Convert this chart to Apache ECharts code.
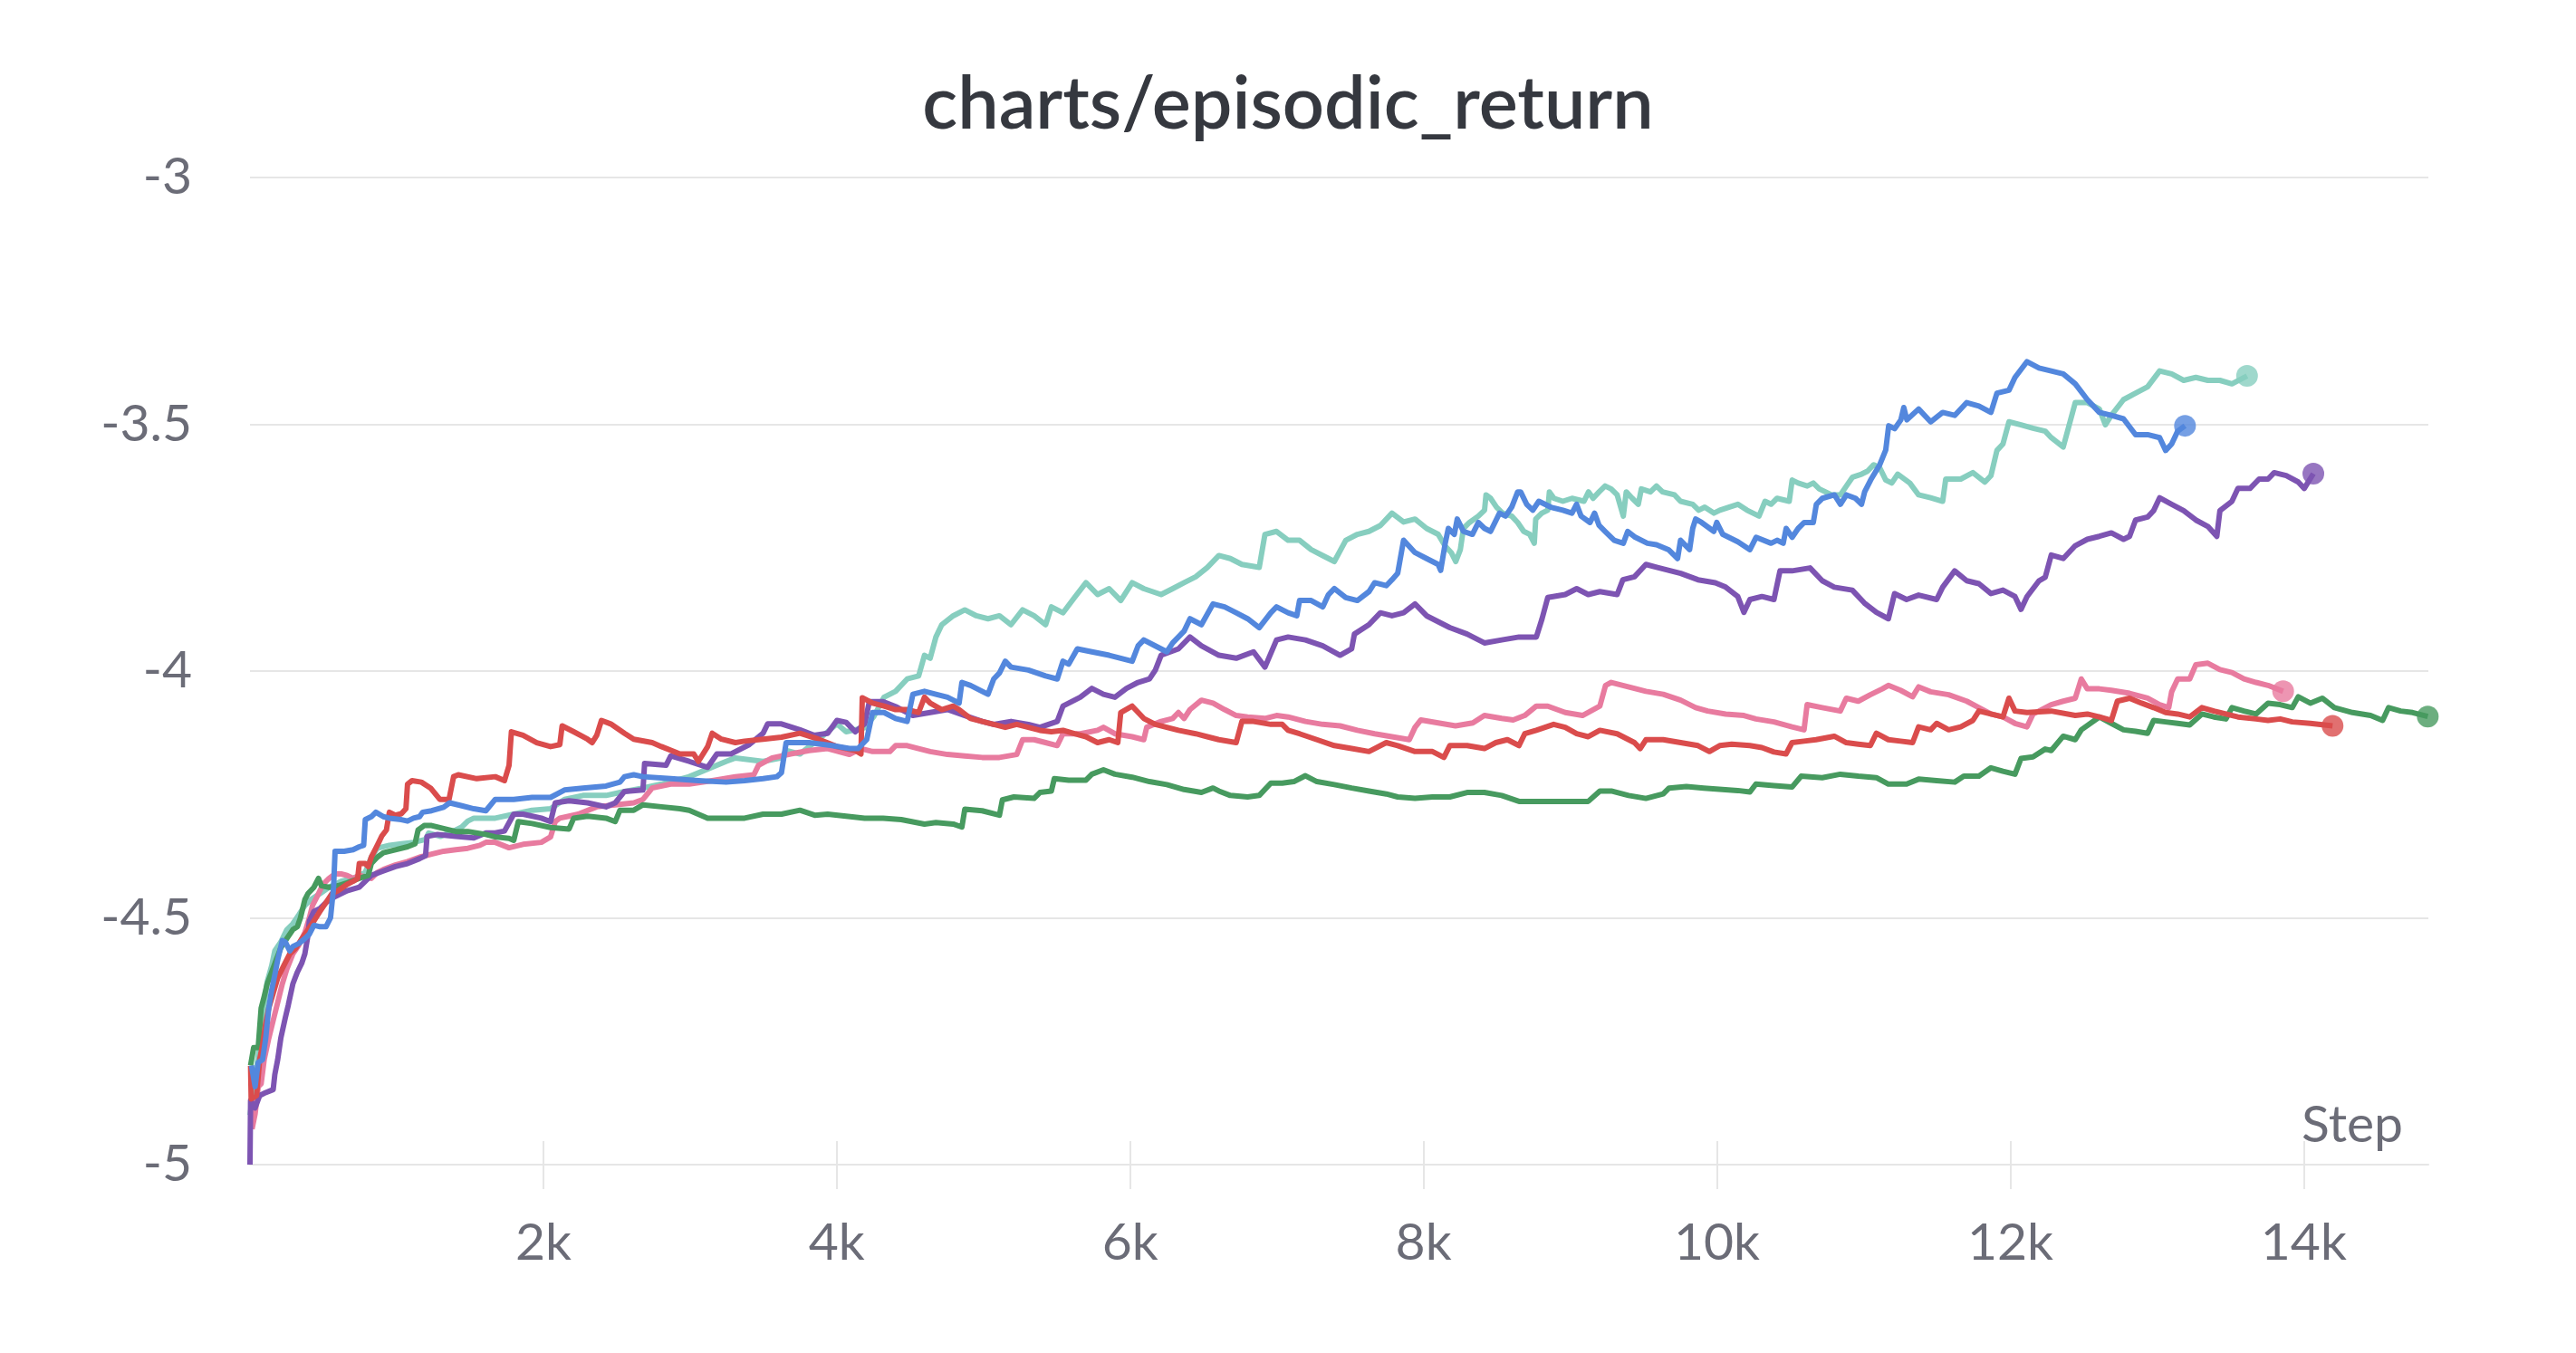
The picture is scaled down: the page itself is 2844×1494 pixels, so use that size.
<!DOCTYPE html>
<html>
<head>
<meta charset="utf-8">
<script src="https://cdn.jsdelivr.net/npm/echarts@6/dist/echarts.min.js"></script>
<style>
html,body{margin:0;padding:0;background:#ffffff;}
#chart{width:2844px;height:1494px;}
</style>
</head>
<body>
<div id="chart"></div>
<script>
// ---------- text ----------
const chartTitle = 'charts/episodic_return';
const xAxisName = 'Step';
const xTickValues = [2000, 4000, 6000, 8000, 10000, 12000, 14000];
const yMin = -5, yMax = -3, yStep = 0.5;
const xMin = 0, xMax = 14850;

// ---------- run colours ----------
const runColors = {
  teal: '#87cebf', pink: '#e87b9f', purple: '#7d54b2',
  green: '#479a5f', red: '#da4c4c', blue: '#5387dd'
};

// ---------- data: [step, episodic_return] ----------
const tealRun = [[0,-4.90],[25,-4.85],[56,-4.78],[86,-4.70],[117,-4.63],[148,-4.597],[169,-4.567],[210,-4.549],[251,-4.524],[292,-4.512],[333,-4.494],[374,-4.475],[415,-4.463],[477,-4.451],[539,-4.438],[621,-4.426],[703,-4.420],[786,-4.408],[827,-4.377],[868,-4.359],[950,-4.353],[1032,-4.350],[1115,-4.347],[1197,-4.341],[1218,-4.328],[1300,-4.335],[1403,-4.322],[1444,-4.316],[1485,-4.304],[1526,-4.298],[1608,-4.298],[1672,-4.298],[1798,-4.290],[1923,-4.282],[2049,-4.279],[2144,-4.260],[2270,-4.252],[2427,-4.252],[2553,-4.244],[2679,-4.237],[2805,-4.229],[2994,-4.214],[3246,-4.183],[3309,-4.176],[3498,-4.183],[3623,-4.176],[3655,-4.161],[3749,-4.168],[3938,-4.123],[4001,-4.107],[4064,-4.123],[4190,-4.115],[4253,-4.092],[4322,-4.053],[4401,-4.041],[4480,-4.016],[4558,-4.010],[4598,-3.968],[4637,-3.974],[4676,-3.931],[4716,-3.906],[4794,-3.888],[4873,-3.876],[4952,-3.888],[5031,-3.894],[5109,-3.888],[5188,-3.906],[5267,-3.876],[5345,-3.888],[5424,-3.906],[5463,-3.870],[5542,-3.882],[5621,-3.851],[5699,-3.821],[5778,-3.845],[5857,-3.833],[5936,-3.857],[6014,-3.821],[6093,-3.833],[6211,-3.845],[6290,-3.833],[6368,-3.821],[6447,-3.809],[6526,-3.790],[6605,-3.766],[6683,-3.772],[6762,-3.784],[6880,-3.790],[6919,-3.723],[6998,-3.717],[7077,-3.735],[7155,-3.735],[7234,-3.754],[7313,-3.766],[7392,-3.778],[7470,-3.735],[7549,-3.723],[7628,-3.717],[7706,-3.705],[7785,-3.680],[7864,-3.698],[7942,-3.692],[8021,-3.711],[8100,-3.723],[8148,-3.747],[8189,-3.760],[8220,-3.778],[8251,-3.754],[8272,-3.711],[8313,-3.699],[8374,-3.686],[8416,-3.674],[8426,-3.643],[8457,-3.650],[8498,-3.668],[8539,-3.680],[8601,-3.686],[8642,-3.699],[8683,-3.717],[8724,-3.723],[8755,-3.741],[8765,-3.692],[8806,-3.680],[8847,-3.674],[8858,-3.637],[8889,-3.650],[8950,-3.656],[9012,-3.650],[9094,-3.656],[9125,-3.637],[9156,-3.650],[9197,-3.637],[9238,-3.625],[9279,-3.631],[9320,-3.643],[9362,-3.686],[9382,-3.637],[9423,-3.650],[9464,-3.662],[9485,-3.631],[9547,-3.637],[9588,-3.625],[9629,-3.637],[9711,-3.643],[9752,-3.656],[9835,-3.662],[9876,-3.674],[9917,-3.668],[9979,-3.680],[10020,-3.674],[10081,-3.668],[10143,-3.662],[10205,-3.674],[10246,-3.680],[10287,-3.686],[10328,-3.656],[10369,-3.662],[10410,-3.650],[10493,-3.656],[10513,-3.613],[10554,-3.619],[10616,-3.625],[10657,-3.619],[10698,-3.631],[10740,-3.637],[10781,-3.643],[10842,-3.643],[10883,-3.625],[10925,-3.607],[10986,-3.601],[11027,-3.595],[11069,-3.582],[11110,-3.588],[11151,-3.613],[11192,-3.619],[11233,-3.601],[11315,-3.619],[11375,-3.643],[11457,-3.649],[11539,-3.656],[11560,-3.611],[11662,-3.611],[11745,-3.598],[11827,-3.617],[11868,-3.604],[11909,-3.553],[11950,-3.540],[11991,-3.495],[12073,-3.501],[12155,-3.508],[12238,-3.514],[12279,-3.527],[12361,-3.546],[12402,-3.501],[12443,-3.456],[12525,-3.456],[12607,-3.469],[12648,-3.501],[12689,-3.482],[12772,-3.450],[12854,-3.437],[12936,-3.424],[13018,-3.392],[13100,-3.398],[13182,-3.411],[13265,-3.405],[13347,-3.411],[13429,-3.411],[13511,-3.418],[13614,-3.402]];

const pinkRun = [[14,-4.928],[35,-4.897],[56,-4.842],[76,-4.836],[97,-4.787],[128,-4.744],[158,-4.708],[189,-4.671],[220,-4.634],[251,-4.604],[292,-4.573],[333,-4.555],[374,-4.530],[405,-4.500],[426,-4.475],[457,-4.457],[498,-4.432],[539,-4.420],[580,-4.411],[621,-4.411],[662,-4.414],[703,-4.420],[745,-4.414],[786,-4.417],[827,-4.420],[868,-4.408],[909,-4.402],[991,-4.393],[1074,-4.386],[1156,-4.377],[1238,-4.371],[1320,-4.365],[1403,-4.362],[1485,-4.359],[1567,-4.353],[1608,-4.347],[1672,-4.347],[1766,-4.358],[1861,-4.351],[1986,-4.347],[2049,-4.336],[2081,-4.305],[2112,-4.298],[2175,-4.294],[2238,-4.290],[2364,-4.275],[2490,-4.271],[2616,-4.267],[2679,-4.260],[2742,-4.237],[2868,-4.229],[2994,-4.229],[3151,-4.222],[3309,-4.214],[3435,-4.210],[3466,-4.191],[3560,-4.176],[3686,-4.168],[3812,-4.161],[3938,-4.157],[4086,-4.169],[4165,-4.157],[4244,-4.163],[4362,-4.163],[4401,-4.151],[4480,-4.151],[4558,-4.157],[4637,-4.163],[4755,-4.169],[4873,-4.172],[4991,-4.175],[5109,-4.175],[5227,-4.169],[5267,-4.139],[5345,-4.139],[5424,-4.145],[5503,-4.151],[5542,-4.127],[5660,-4.127],[5778,-4.120],[5818,-4.114],[5896,-4.127],[6014,-4.133],[6093,-4.139],[6113,-4.114],[6211,-4.102],[6290,-4.096],[6329,-4.084],[6368,-4.096],[6408,-4.078],[6486,-4.059],[6565,-4.065],[6644,-4.078],[6723,-4.090],[6801,-4.093],[6919,-4.096],[6998,-4.090],[7077,-4.093],[7195,-4.102],[7313,-4.108],[7431,-4.111],[7549,-4.120],[7667,-4.127],[7785,-4.133],[7903,-4.139],[7942,-4.114],[7982,-4.099],[8100,-4.105],[8218,-4.111],[8336,-4.105],[8415,-4.090],[8533,-4.096],[8611,-4.099],[8690,-4.090],[8769,-4.071],[8847,-4.071],[8966,-4.084],[9084,-4.090],[9202,-4.071],[9241,-4.029],[9280,-4.023],[9359,-4.029],[9516,-4.041],[9634,-4.047],[9753,-4.059],[9855,-4.074],[9937,-4.081],[10060,-4.087],[10184,-4.090],[10266,-4.097],[10389,-4.103],[10512,-4.113],[10594,-4.119],[10615,-4.068],[10718,-4.074],[10841,-4.081],[10882,-4.055],[10964,-4.061],[11046,-4.048],[11128,-4.036],[11169,-4.029],[11252,-4.039],[11334,-4.052],[11375,-4.032],[11457,-4.042],[11580,-4.048],[11703,-4.061],[11786,-4.074],[11868,-4.087],[11950,-4.093],[12032,-4.106],[12114,-4.113],[12155,-4.087],[12196,-4.081],[12279,-4.068],[12361,-4.061],[12443,-4.055],[12484,-4.016],[12525,-4.036],[12607,-4.036],[12689,-4.039],[12813,-4.045],[12936,-4.055],[13018,-4.068],[13080,-4.074],[13100,-4.042],[13141,-4.016],[13223,-4.016],[13265,-3.987],[13347,-3.984],[13429,-3.997],[13511,-4.003],[13593,-4.016],[13675,-4.023],[13757,-4.029],[13860,-4.041]];

const purpleRun = [[0,-5.0],[4,-4.870],[35,-4.885],[66,-4.860],[107,-4.854],[158,-4.848],[169,-4.818],[189,-4.787],[210,-4.744],[241,-4.702],[261,-4.677],[292,-4.634],[323,-4.610],[354,-4.591],[374,-4.573],[395,-4.536],[405,-4.506],[436,-4.487],[477,-4.481],[518,-4.469],[580,-4.457],[662,-4.445],[745,-4.438],[786,-4.426],[827,-4.414],[909,-4.405],[991,-4.396],[1074,-4.390],[1156,-4.380],[1197,-4.374],[1207,-4.335],[1279,-4.331],[1403,-4.335],[1526,-4.338],[1608,-4.328],[1672,-4.328],[1735,-4.324],[1798,-4.290],[1861,-4.290],[1986,-4.298],[2049,-4.305],[2081,-4.267],[2175,-4.263],[2301,-4.267],[2427,-4.275],[2490,-4.267],[2553,-4.244],[2679,-4.241],[2690,-4.187],[2836,-4.191],[2868,-4.172],[2994,-4.183],[3120,-4.195],[3183,-4.168],[3277,-4.168],[3403,-4.149],[3498,-4.126],[3529,-4.107],[3623,-4.107],[3749,-4.119],[3844,-4.130],[3938,-4.126],[4001,-4.100],[4064,-4.104],[4127,-4.123],[4190,-4.107],[4222,-4.062],[4316,-4.062],[4410,-4.073],[4440,-4.078],[4519,-4.090],[4637,-4.084],[4755,-4.078],[4873,-4.090],[4991,-4.102],[5070,-4.108],[5188,-4.102],[5306,-4.108],[5385,-4.114],[5503,-4.102],[5542,-4.071],[5660,-4.053],[5739,-4.035],[5818,-4.047],[5896,-4.053],[5975,-4.035],[6054,-4.023],[6132,-4.016],[6172,-3.998],[6211,-3.968],[6329,-3.955],[6408,-3.931],[6486,-3.949],[6605,-3.968],[6723,-3.974],[6841,-3.961],[6919,-3.992],[6998,-3.937],[7077,-3.931],[7195,-3.937],[7313,-3.949],[7431,-3.968],[7510,-3.955],[7529,-3.925],[7628,-3.906],[7706,-3.882],[7785,-3.888],[7864,-3.882],[7942,-3.864],[8021,-3.888],[8100,-3.900],[8179,-3.912],[8297,-3.925],[8415,-3.943],[8533,-3.937],[8651,-3.931],[8769,-3.931],[8808,-3.894],[8847,-3.851],[8966,-3.845],[9044,-3.833],[9123,-3.845],[9202,-3.839],[9320,-3.845],[9359,-3.815],[9438,-3.809],[9516,-3.784],[9595,-3.790],[9674,-3.796],[9753,-3.802],[9871,-3.815],[9989,-3.821],[10060,-3.830],[10142,-3.849],[10184,-3.881],[10225,-3.855],[10307,-3.849],[10389,-3.855],[10430,-3.797],[10512,-3.797],[10635,-3.791],[10718,-3.817],[10800,-3.830],[10923,-3.836],[11005,-3.862],[11087,-3.881],[11169,-3.894],[11211,-3.843],[11293,-3.855],[11375,-3.846],[11498,-3.855],[11539,-3.830],[11621,-3.797],[11703,-3.817],[11786,-3.823],[11868,-3.843],[11950,-3.836],[12032,-3.849],[12073,-3.875],[12114,-3.849],[12196,-3.817],[12238,-3.810],[12279,-3.765],[12361,-3.772],[12443,-3.746],[12525,-3.733],[12607,-3.727],[12689,-3.720],[12772,-3.733],[12813,-3.727],[12854,-3.694],[12936,-3.688],[12977,-3.675],[13018,-3.649],[13100,-3.662],[13182,-3.675],[13265,-3.694],[13347,-3.707],[13408,-3.727],[13429,-3.675],[13511,-3.656],[13552,-3.630],[13634,-3.630],[13696,-3.611],[13757,-3.611],[13799,-3.598],[13881,-3.604],[13963,-3.617],[14004,-3.630],[14066,-3.600]];

const greenRun = [[4,-4.799],[25,-4.763],[56,-4.763],[76,-4.683],[97,-4.659],[117,-4.634],[148,-4.610],[179,-4.585],[210,-4.561],[251,-4.542],[292,-4.524],[323,-4.518],[344,-4.500],[374,-4.463],[395,-4.451],[436,-4.438],[467,-4.420],[487,-4.435],[539,-4.438],[600,-4.435],[662,-4.429],[745,-4.420],[806,-4.414],[827,-4.390],[868,-4.377],[909,-4.368],[991,-4.362],[1074,-4.356],[1125,-4.350],[1146,-4.322],[1187,-4.313],[1238,-4.313],[1320,-4.319],[1403,-4.325],[1485,-4.325],[1608,-4.331],[1672,-4.336],[1766,-4.339],[1798,-4.343],[1829,-4.305],[1923,-4.309],[2049,-4.317],[2175,-4.320],[2207,-4.298],[2301,-4.294],[2427,-4.298],[2490,-4.305],[2522,-4.282],[2616,-4.282],[2679,-4.271],[2805,-4.275],[2931,-4.279],[2994,-4.282],[3120,-4.298],[3246,-4.298],[3372,-4.298],[3498,-4.290],[3623,-4.290],[3749,-4.282],[3850,-4.292],[3938,-4.290],[4064,-4.294],[4190,-4.298],[4316,-4.298],[4440,-4.301],[4598,-4.310],[4676,-4.307],[4794,-4.310],[4853,-4.316],[4873,-4.280],[4991,-4.283],[5109,-4.292],[5129,-4.261],[5208,-4.255],[5345,-4.258],[5385,-4.246],[5463,-4.243],[5483,-4.218],[5581,-4.221],[5699,-4.221],[5739,-4.209],[5818,-4.200],[5896,-4.209],[6014,-4.215],[6132,-4.224],[6250,-4.230],[6368,-4.240],[6486,-4.246],[6565,-4.237],[6605,-4.243],[6683,-4.252],[6801,-4.255],[6880,-4.252],[6959,-4.227],[7037,-4.227],[7116,-4.224],[7195,-4.212],[7273,-4.224],[7392,-4.230],[7510,-4.237],[7628,-4.243],[7746,-4.249],[7824,-4.255],[7942,-4.258],[8061,-4.255],[8179,-4.255],[8297,-4.246],[8415,-4.246],[8533,-4.252],[8651,-4.264],[8808,-4.264],[8966,-4.264],[9123,-4.264],[9202,-4.243],[9280,-4.243],[9398,-4.252],[9516,-4.258],[9634,-4.249],[9674,-4.237],[9792,-4.234],[9910,-4.237],[10142,-4.242],[10225,-4.245],[10266,-4.229],[10389,-4.232],[10512,-4.235],[10574,-4.213],[10718,-4.216],[10841,-4.209],[10964,-4.213],[11087,-4.216],[11169,-4.229],[11293,-4.229],[11375,-4.219],[11498,-4.222],[11621,-4.225],[11683,-4.213],[11786,-4.213],[11868,-4.196],[11950,-4.203],[12032,-4.209],[12073,-4.177],[12155,-4.174],[12238,-4.158],[12279,-4.161],[12361,-4.132],[12443,-4.139],[12484,-4.119],[12607,-4.093],[12689,-4.106],[12772,-4.119],[12854,-4.122],[12936,-4.126],[12977,-4.100],[13059,-4.103],[13141,-4.106],[13223,-4.109],[13306,-4.087],[13388,-4.093],[13470,-4.097],[13511,-4.074],[13593,-4.081],[13675,-4.087],[13757,-4.065],[13840,-4.068],[13922,-4.074],[13963,-4.052],[14045,-4.065],[14127,-4.055],[14209,-4.074],[14333,-4.084],[14456,-4.090],[14538,-4.100],[14579,-4.074],[14661,-4.081],[14743,-4.084],[14846,-4.092]];

const redRun = [[4,-4.800],[8,-4.867],[45,-4.860],[66,-4.787],[86,-4.757],[107,-4.714],[128,-4.683],[158,-4.653],[189,-4.622],[230,-4.597],[271,-4.573],[313,-4.561],[354,-4.542],[395,-4.524],[436,-4.506],[477,-4.487],[518,-4.469],[559,-4.451],[600,-4.445],[662,-4.432],[703,-4.426],[734,-4.420],[745,-4.390],[786,-4.390],[806,-4.396],[827,-4.377],[858,-4.359],[878,-4.347],[899,-4.334],[930,-4.322],[950,-4.286],[991,-4.292],[1032,-4.289],[1063,-4.279],[1074,-4.229],[1105,-4.222],[1168,-4.225],[1231,-4.237],[1294,-4.260],[1357,-4.260],[1388,-4.214],[1420,-4.210],[1546,-4.218],[1672,-4.214],[1735,-4.222],[1766,-4.191],[1782,-4.123],[1861,-4.130],[1955,-4.145],[2049,-4.153],[2112,-4.149],[2128,-4.111],[2207,-4.123],[2301,-4.138],[2333,-4.145],[2364,-4.130],[2396,-4.100],[2459,-4.107],[2553,-4.126],[2616,-4.138],[2742,-4.145],[2805,-4.153],[2931,-4.168],[3025,-4.168],[3057,-4.183],[3120,-4.153],[3151,-4.126],[3214,-4.138],[3309,-4.145],[3372,-4.142],[3498,-4.138],[3623,-4.134],[3749,-4.126],[3875,-4.138],[4001,-4.153],[4127,-4.161],[4165,-4.168],[4174,-4.054],[4244,-4.065],[4322,-4.071],[4401,-4.078],[4480,-4.078],[4558,-4.084],[4598,-4.053],[4637,-4.065],[4716,-4.078],[4794,-4.071],[4834,-4.078],[4912,-4.096],[4991,-4.102],[5070,-4.108],[5149,-4.114],[5227,-4.108],[5306,-4.114],[5385,-4.120],[5463,-4.123],[5542,-4.120],[5621,-4.127],[5699,-4.133],[5778,-4.145],[5857,-4.139],[5916,-4.145],[5936,-4.084],[6014,-4.071],[6093,-4.096],[6172,-4.108],[6250,-4.114],[6329,-4.120],[6447,-4.127],[6526,-4.133],[6605,-4.139],[6723,-4.145],[6762,-4.102],[6841,-4.102],[6959,-4.108],[7037,-4.108],[7077,-4.120],[7155,-4.127],[7273,-4.139],[7392,-4.151],[7510,-4.157],[7628,-4.163],[7746,-4.145],[7824,-4.151],[7942,-4.163],[8061,-4.163],[8139,-4.175],[8179,-4.151],[8297,-4.151],[8415,-4.157],[8493,-4.145],[8572,-4.139],[8651,-4.151],[8690,-4.127],[8769,-4.120],[8887,-4.108],[8966,-4.114],[9044,-4.127],[9123,-4.133],[9202,-4.120],[9320,-4.127],[9438,-4.145],[9477,-4.157],[9516,-4.139],[9634,-4.139],[9753,-4.145],[9871,-4.151],[9949,-4.163],[10019,-4.151],[10101,-4.148],[10225,-4.151],[10307,-4.155],[10389,-4.164],[10471,-4.168],[10512,-4.145],[10594,-4.142],[10676,-4.139],[10800,-4.132],[10882,-4.145],[10964,-4.148],[11046,-4.151],[11087,-4.126],[11169,-4.139],[11252,-4.142],[11334,-4.145],[11375,-4.113],[11457,-4.119],[11498,-4.106],[11580,-4.119],[11662,-4.113],[11745,-4.100],[11786,-4.081],[11868,-4.087],[11950,-4.093],[11991,-4.055],[12032,-4.081],[12114,-4.084],[12279,-4.081],[12443,-4.090],[12525,-4.087],[12607,-4.093],[12689,-4.100],[12730,-4.061],[12813,-4.055],[12895,-4.065],[12977,-4.074],[13059,-4.084],[13141,-4.087],[13223,-4.093],[13306,-4.074],[13388,-4.081],[13470,-4.087],[13552,-4.093],[13675,-4.097],[13757,-4.100],[13840,-4.097],[13922,-4.103],[14045,-4.106],[14197,-4.111]];

const blueRun = [[10,-4.799],[35,-4.842],[56,-4.793],[86,-4.787],[107,-4.744],[128,-4.683],[148,-4.646],[169,-4.616],[189,-4.585],[220,-4.546],[241,-4.549],[271,-4.567],[292,-4.558],[333,-4.552],[374,-4.542],[405,-4.533],[436,-4.515],[477,-4.518],[518,-4.518],[549,-4.500],[570,-4.438],[580,-4.365],[642,-4.365],[703,-4.362],[745,-4.356],[775,-4.353],[786,-4.301],[827,-4.295],[858,-4.286],[909,-4.295],[950,-4.298],[1032,-4.301],[1074,-4.304],[1115,-4.298],[1156,-4.295],[1177,-4.286],[1238,-4.283],[1320,-4.276],[1361,-4.267],[1444,-4.273],[1526,-4.279],[1608,-4.283],[1672,-4.260],[1798,-4.260],[1923,-4.256],[2049,-4.256],[2144,-4.241],[2270,-4.237],[2427,-4.233],[2522,-4.225],[2553,-4.214],[2616,-4.210],[2679,-4.214],[2868,-4.218],[3057,-4.222],[3246,-4.225],[3372,-4.222],[3498,-4.218],[3592,-4.214],[3623,-4.206],[3655,-4.145],[3812,-4.145],[3968,-4.151],[4086,-4.157],[4145,-4.157],[4204,-4.139],[4244,-4.084],[4322,-4.084],[4401,-4.096],[4480,-4.102],[4519,-4.047],[4598,-4.041],[4676,-4.047],[4755,-4.053],[4834,-4.065],[4853,-4.023],[4912,-4.029],[4991,-4.041],[5031,-4.047],[5070,-4.016],[5109,-4.004],[5149,-3.980],[5188,-3.992],[5306,-3.998],[5424,-4.010],[5503,-4.016],[5542,-3.980],[5581,-3.986],[5640,-3.955],[5739,-3.961],[5857,-3.968],[6014,-3.980],[6054,-3.949],[6093,-3.937],[6172,-3.949],[6250,-3.961],[6290,-3.943],[6368,-3.919],[6408,-3.894],[6486,-3.906],[6565,-3.864],[6644,-3.870],[6723,-3.882],[6801,-3.894],[6880,-3.912],[6959,-3.882],[6998,-3.870],[7077,-3.882],[7136,-3.888],[7155,-3.857],[7234,-3.857],[7313,-3.870],[7352,-3.845],[7392,-3.833],[7470,-3.851],[7549,-3.857],[7628,-3.839],[7667,-3.821],[7746,-3.827],[7785,-3.815],[7824,-3.802],[7864,-3.735],[7942,-3.760],[8021,-3.772],[8100,-3.784],[8117,-3.796],[8148,-3.741],[8169,-3.711],[8210,-3.723],[8230,-3.692],[8272,-3.717],[8333,-3.723],[8374,-3.699],[8416,-3.711],[8457,-3.717],[8518,-3.680],[8559,-3.686],[8601,-3.668],[8642,-3.637],[8662,-3.637],[8703,-3.662],[8745,-3.674],[8786,-3.656],[8868,-3.668],[8950,-3.674],[9012,-3.680],[9043,-3.662],[9074,-3.686],[9135,-3.699],[9166,-3.680],[9197,-3.705],[9238,-3.717],[9300,-3.735],[9362,-3.741],[9392,-3.717],[9444,-3.729],[9526,-3.741],[9588,-3.744],[9670,-3.754],[9732,-3.772],[9752,-3.735],[9814,-3.754],[9835,-3.711],[9855,-3.692],[9896,-3.699],[9979,-3.717],[9999,-3.699],[10040,-3.723],[10143,-3.738],[10225,-3.754],[10267,-3.729],[10369,-3.741],[10410,-3.735],[10452,-3.741],[10472,-3.711],[10513,-3.729],[10554,-3.711],[10595,-3.699],[10657,-3.699],[10678,-3.662],[10719,-3.650],[10801,-3.643],[10842,-3.662],[10883,-3.643],[10945,-3.650],[10986,-3.662],[11007,-3.637],[11048,-3.613],[11110,-3.582],[11151,-3.552],[11171,-3.503],[11212,-3.509],[11254,-3.491],[11274,-3.466],[11295,-3.491],[11375,-3.469],[11457,-3.495],[11539,-3.476],[11621,-3.482],[11703,-3.456],[11786,-3.463],[11868,-3.476],[11909,-3.437],[11991,-3.431],[12032,-3.405],[12114,-3.373],[12196,-3.386],[12279,-3.392],[12361,-3.398],[12443,-3.418],[12525,-3.450],[12607,-3.476],[12689,-3.482],[12772,-3.489],[12854,-3.521],[12936,-3.521],[13018,-3.527],[13059,-3.553],[13100,-3.540],[13141,-3.514],[13191,-3.503]];

// draw order (bottom -> top)
const runs = [
  { name: 'run-teal',   color: runColors.teal,   data: tealRun },
  { name: 'run-pink',   color: runColors.pink,   data: pinkRun },
  { name: 'run-purple', color: runColors.purple, data: purpleRun },
  { name: 'run-green',  color: runColors.green,  data: greenRun },
  { name: 'run-red',    color: runColors.red,    data: redRun },
  { name: 'run-blue',   color: runColors.blue,   data: blueRun }
];

// ---------- chart ----------
const FONT = 'Lato, "Noto Sans", sans-serif';
const labelColor = '#6b6c77';
const gridColor = '#e6e6e6';

const lineSeries = runs.map(r => ({
  name: r.name,
  type: 'line',
  data: r.data,
  showSymbol: false,
  symbol: 'none',
  lineStyle: { color: r.color, width: 6, join: 'round' },
  itemStyle: { color: r.color },
  z: 2,
  silent: true,
  animation: false
}));
const dotSeries = runs.map(r => ({
  name: r.name + '-end',
  type: 'scatter',
  data: [r.data[r.data.length - 1]],
  symbol: 'circle',
  symbolSize: 24,
  itemStyle: { color: r.color },
  z: 3,
  silent: true,
  animation: false
}));

const chart = echarts.init(document.getElementById('chart'), null, { renderer: 'canvas' });
chart.setOption({
  backgroundColor: '#ffffff',
  animation: false,
  title: {
    text: chartTitle,
    left: 'center',
    top: 75,
    padding: 0,
    textStyle: { fontFamily: FONT, fontSize: 81, fontWeight: 600, color: '#35383f', lineHeight: 81 }
  },
  grid: { left: 276, right: 163, top: 196, bottom: 208, containLabel: false },
  xAxis: [
    {
      type: 'value', min: xMin, max: xMax, position: 'bottom',
      name: xAxisName, nameLocation: 'end', nameGap: -28,
      nameTextStyle: { fontFamily: FONT, fontSize: 57, color: labelColor, align: 'right', verticalAlign: 'bottom', lineHeight: 57, padding: [0, 0, 15, 0] },
      axisLine: { show: true, lineStyle: { color: gridColor, width: 2 } },
      axisTick: { show: true, inside: false, length: 27, customValues: xTickValues, lineStyle: { color: gridColor, width: 2 } },
      axisLabel: { show: true, customValues: xTickValues, margin: 58, fontFamily: FONT, fontSize: 57, lineHeight: 57, color: labelColor,
        formatter: v => (v / 1000) + 'k' },
      splitLine: { show: false }
    },
    {
      type: 'value', min: xMin, max: xMax, position: 'bottom',
      axisLine: { show: false },
      axisTick: { show: true, inside: true, length: 26, customValues: xTickValues, lineStyle: { color: gridColor, width: 2 } },
      axisLabel: { show: false },
      splitLine: { show: false }
    }
  ],
  yAxis: {
    type: 'value', min: yMin, max: yMax, interval: yStep,
    axisLine: { show: false },
    axisTick: { show: false },
    axisLabel: { margin: 64, fontFamily: FONT, fontSize: 57, lineHeight: 57, color: labelColor },
    splitLine: { show: true, lineStyle: { color: gridColor, width: 2 } }
  },
  series: lineSeries.concat(dotSeries)
});
</script>
</body>
</html>
